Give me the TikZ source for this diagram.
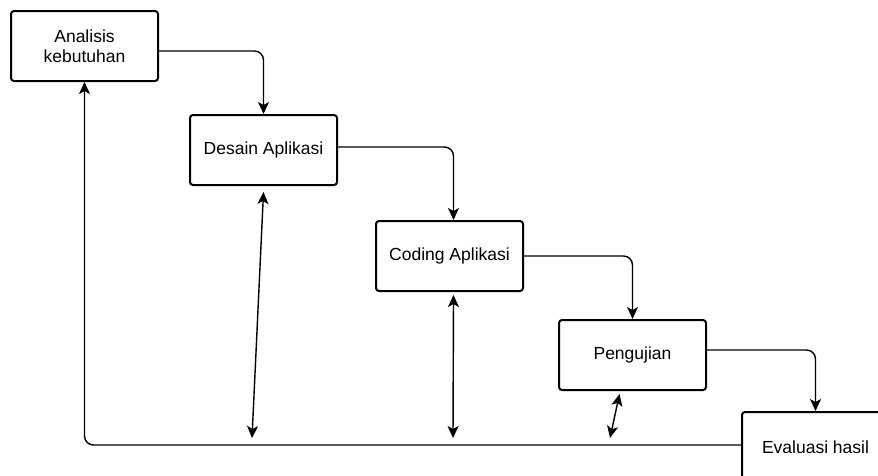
\documentclass[tikz,border=0pt]{standalone}
\usepackage{fontspec}
\setmainfont{Liberation Sans}
\usetikzlibrary{positioning,arrows.meta}

\begin{document}
\begin{tikzpicture}[x=1pt,y=-1pt,
    stepbox/.style={draw,rectangle,line width=2pt,rounded corners=3pt,minimum width=147pt,minimum height=70pt,align=center,font=\fontsize{17.5}{20.5}\selectfont},
    flow/.style={line width=1.4pt,rounded corners=9pt,-{Stealth[length=12pt,width=11pt,inset=3pt]}},
    back/.style={line width=1.4pt,{Stealth[length=12pt,width=11pt,inset=3pt]}-{Stealth[length=12pt,width=11pt,inset=3pt]}}]
    \useasboundingbox (0,0) rectangle (878,475);

    \node[stepbox] (analisis) at (84.5,46) {Analisis\\kebutuhan};
    \node[stepbox,below right=32pt and 30pt of analisis] (desain) {Desain Aplikasi};
    \node[stepbox,below right=34pt and 37pt of desain] (coding) {Coding Aplikasi};
    \node[stepbox,below right=27pt and 34pt of coding] (pengujian) {Pengujian};
    \node[stepbox,below right=20pt and 34pt of pengujian] (evaluasi) {Evaluasi hasil};

    % points on the return line
    \coordinate (b2) at (252,438);
    \coordinate (b3) at (453,438);
    \coordinate (b4) at (610,438);

    % arrows
    \draw[flow] ([yshift=-5pt]analisis.east) -| (desain.north);
    \draw[flow] ([yshift=3pt]desain.east) -| ([xshift=4pt]coding.north);
    \draw[flow] (coding.east) -| (pengujian.north);
    \draw[flow] ([yshift=5pt]pengujian.east) -| (evaluasi.north);
    \draw[flow] ([yshift=2pt]evaluasi.west) -| (analisis.south);
    \draw[back] (b2) -- ([yshift=-6pt]desain.south);
    \draw[back] (b3) -- ([xshift=4pt,yshift=-3pt]coding.south);
    \draw[back] (b4) -- ([xshift=-13pt,yshift=-3pt]pengujian.south);

\end{tikzpicture}
\end{document}
